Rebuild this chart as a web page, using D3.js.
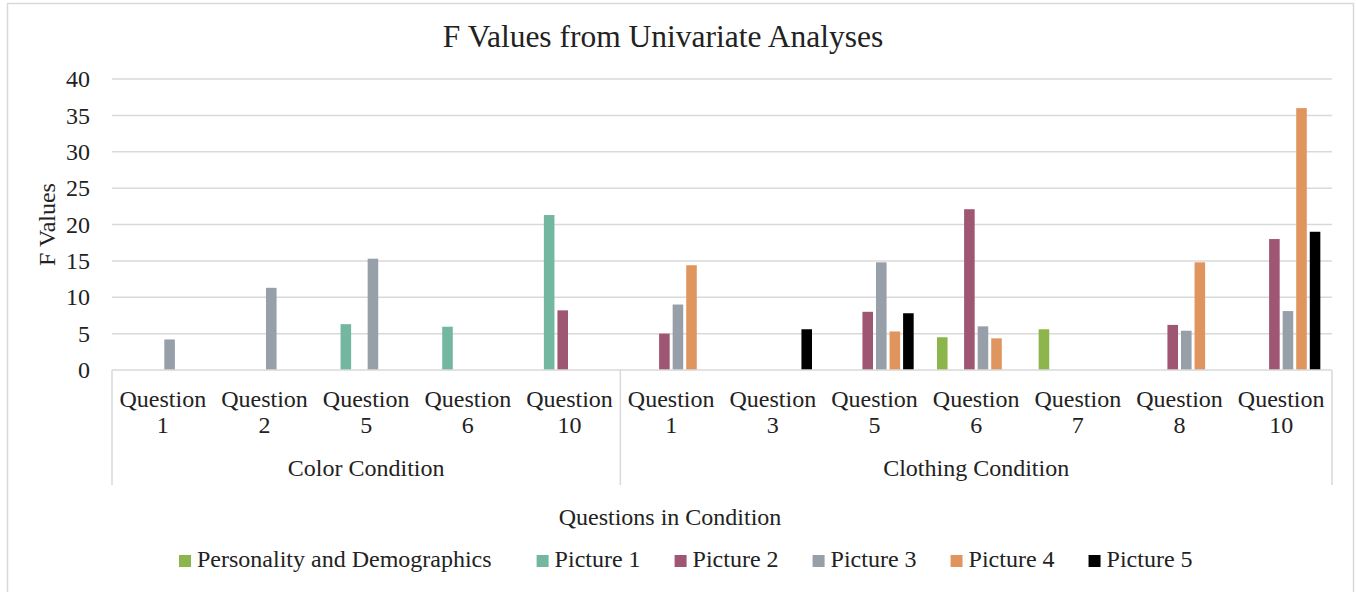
<!DOCTYPE html>
<html>
<head>
<meta charset="utf-8">
<script src="https://cdn.jsdelivr.net/npm/d3@7"></script>
<style>
    body { margin: 0; background: #fff; }
    svg text { font-family: "Liberation Serif", "Times New Roman", Times, "DejaVu Serif", serif; }
    .grid line { stroke: #d9d9d9; stroke-width: 1.5; }
    .axis-line { stroke: #d9d9d9; stroke-width: 1.5; fill: none; }
</style>
</head>
<body>
<div id="chart"></div>
<script>
// Category labels (bottom row = condition, top row = question)
var questions = ["1", "2", "5", "6", "10", "1", "3", "5", "6", "7", "8", "10"];
var conditions = ["Color Condition", "Color Condition", "Color Condition", "Color Condition", "Color Condition",
    "Clothing Condition", "Clothing Condition", "Clothing Condition", "Clothing Condition",
    "Clothing Condition", "Clothing Condition", "Clothing Condition"];
var seriesNames = ["Personality and Demographics", "Picture 1", "Picture 2", "Picture 3", "Picture 4", "Picture 5"];
var seriesColors = ["#8cb64b", "#74b7a0", "#9e5672", "#979fa9", "#e0955e", "#000000"];

// F values per series (null = not shown)
var personality = [null, null, null, null, null, null, null, null, 4.5, 5.6, null, null];
var picture1 = [null, null, 6.3, 5.95, 21.3, null, null, null, null, null, null, null];
var picture2 = [null, null, null, null, 8.2, 5.0, null, 8.0, 22.1, null, 6.2, 18.0];
var picture3 = [4.2, 11.3, 15.3, null, null, 9.0, null, 14.8, 6.0, null, 5.4, 8.1];
var picture4 = [null, null, null, null, null, 14.4, null, 5.3, 4.35, null, 14.8, 36.0];
var picture5 = [null, null, null, null, null, null, 5.6, 7.8, null, null, null, 19.0];

var yTicks = [0, 5, 10, 15, 20, 25, 30, 35, 40];

var seriesValues = [personality, picture1, picture2, picture3, picture4, picture5];

var W = 1356, H = 592;
var margin = {left: 112, right: 24, top: 79, bottom: 222};
var plotW = W - margin.left - margin.right,
    plotH = H - margin.top - margin.bottom;
var textColor = '#222';

var svg = d3.select('#chart').append('svg')
    .attr('width', W)
    .attr('height', H);

// outer chart border
svg.append('rect')
    .attr('x', 7.5).attr('y', 3.5)
    .attr('width', 1346).attr('height', 620)
    .attr('fill', 'none')
    .attr('stroke', '#d9d9d9')
    .attr('stroke-width', 1.5);

var g = svg.append('g')
    .attr('transform', 'translate(' + margin.left + ',' + margin.top + ')');

var catIds = questions.map((q, i) => i);
var x = d3.scaleBand()
    .domain(catIds)
    .range([0, plotW])
    .padding(0);

var xSub = d3.scaleBand()
    .domain(d3.range(seriesNames.length))
    .range([0, x.bandwidth()])
    .paddingInner(0.22)
    .paddingOuter(0.86);

var y = d3.scaleLinear()
    .domain([0, 40])
    .range([plotH, 0]);

// gridlines
g.append('g')
    .attr('class', 'grid')
    .selectAll('line')
    .data(yTicks.filter(d => d > 0))
    .enter().append('line')
    .attr('x1', 0).attr('x2', plotW)
    .attr('y1', d => y(d)).attr('y2', d => y(d));

// y axis labels
var yAxis = g.append('g')
    .call(d3.axisLeft(y).tickValues(yTicks).tickSize(0).tickPadding(22));
yAxis.select('.domain').remove();
yAxis.attr('font-family', null);
yAxis.selectAll('text')
    .attr('font-size', 24)
    .attr('fill', textColor);

// bars
seriesValues.forEach(function(values, s) {
    g.append('g')
        .selectAll('rect')
        .data(values.map((v, i) => ({i: i, v: v})).filter(d => d.v != null))
        .enter().append('rect')
        .attr('x', d => x(d.i) + xSub(s))
        .attr('width', xSub.bandwidth())
        .attr('y', d => y(d.v))
        .attr('height', d => y(0) - y(d.v))
        .attr('fill', seriesColors[s]);
});

// category axis: baseline + group dividers
g.append('line')
    .attr('class', 'axis-line')
    .attr('x1', 0).attr('x2', plotW)
    .attr('y1', plotH).attr('y2', plotH);

var groups = [];
conditions.forEach(function(c, i) {
    var last = groups[groups.length - 1];
    if (!last || last.name !== c) groups.push({name: c, start: i, end: i});
    else last.end = i;
});

var dividers = [0].concat(groups.map(gr => x(gr.end) + x.bandwidth()));
g.selectAll('.divider')
    .data(dividers)
    .enter().append('line')
    .attr('class', 'axis-line')
    .attr('x1', d => d).attr('x2', d => d)
    .attr('y1', plotH).attr('y2', plotH + 115);

var qLabels = g.selectAll('.qlabel')
    .data(catIds)
    .enter().append('text')
    .attr('class', 'qlabel')
    .attr('text-anchor', 'middle')
    .attr('font-size', 24)
    .attr('fill', textColor);
qLabels.append('tspan')
    .attr('x', d => x(d) + x.bandwidth() / 2)
    .attr('y', plotH + 37)
    .text('Question');
qLabels.append('tspan')
    .attr('x', d => x(d) + x.bandwidth() / 2)
    .attr('y', plotH + 63)
    .text(d => questions[d]);

g.selectAll('.glabel')
    .data(groups)
    .enter().append('text')
    .attr('text-anchor', 'middle')
    .attr('font-size', 24)
    .attr('fill', textColor)
    .attr('x', d => (x(d.start) + x(d.end) + x.bandwidth()) / 2)
    .attr('y', plotH + 106)
    .text(d => d.name);

// Chart title
svg.append('text')
    .attr('text-anchor', 'middle')
    .attr('x', 663)
    .attr('y', 47)
    .attr('font-size', 31.5)
    .attr('fill', textColor)
    .text('F Values from Univariate Analyses');

// X axis title
svg.append('text')
    .attr('text-anchor', 'middle')
    .attr('x', 670)
    .attr('y', 525)
    .attr('font-size', 24)
    .attr('fill', textColor)
    .text('Questions in Condition');

// Y axis title
svg.append('text')
    .attr('text-anchor', 'middle')
    .attr('transform', 'translate(55,' + (margin.top + plotH / 2) + ') rotate(-90)')
    .attr('font-size', 24)
    .attr('fill', textColor)
    .text('F Values');

// Legend
var legend = svg.append('g').attr('transform', 'translate(179,567)');
var lx = 0;
seriesNames.forEach(function(name, i) {
    var item = legend.append('g').attr('transform', 'translate(' + lx + ',0)');
    item.append('rect')
        .attr('x', 0).attr('y', -12)
        .attr('width', 12).attr('height', 12)
        .attr('fill', seriesColors[i]);
    var t = item.append('text')
        .attr('x', 18).attr('y', 0)
        .attr('font-size', 24)
        .attr('fill', textColor)
        .text(name);
    lx += 18 + t.node().getComputedTextLength() + (i === 0 ? 45 : 34);
});
</script>
</body>
</html>
